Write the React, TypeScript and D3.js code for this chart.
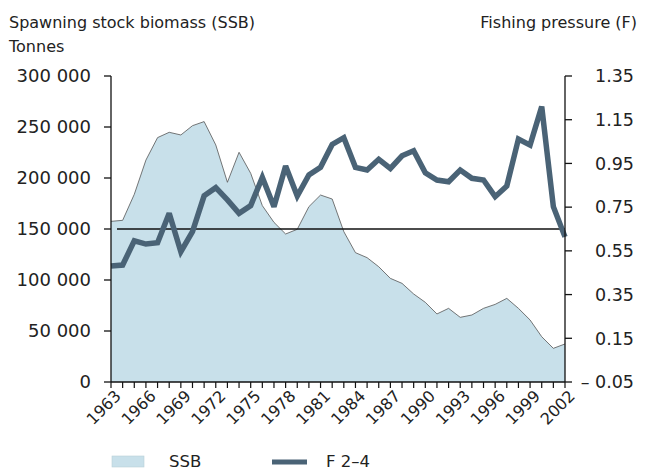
import React from 'react';
import * as d3 from 'd3';

const years = d3.range(1963, 2003);

// Spawning stock biomass, tonnes
const ssb = [
  157500, 158500, 184000, 217600, 239600, 244800, 242200, 251300, 255300, 232400,
  195800, 225200, 204600, 172900, 156500, 145100, 149700, 171900, 183300, 179400,
  147400, 126800, 121900, 113000, 101600, 96700, 86300, 78100, 66700, 72200,
  63400, 65700, 72200, 76100, 82000, 72200, 60800, 44400, 33000, 37300,
];

// Fishing pressure F 2-4
const f24 = [
  0.481, 0.485, 0.596, 0.581, 0.587, 0.722, 0.546, 0.638, 0.802, 0.839,
  0.783, 0.722, 0.757, 0.886, 0.752, 0.938, 0.801, 0.897, 0.932, 1.037,
  1.068, 0.932, 0.920, 0.969, 0.927, 0.985, 1.008, 0.907, 0.874, 0.866,
  0.920, 0.882, 0.874, 0.798, 0.847, 1.062, 1.034, 1.210, 0.752, 0.614,
];

const leftTicks = [0, 50000, 100000, 150000, 200000, 250000, 300000];
const rightTicks = [-0.05, 0.15, 0.35, 0.55, 0.75, 0.95, 1.15, 1.35];
const labelYears = years.filter((y) => (y - 1963) % 3 === 0);
const refLine = 150000;

const W = 648;
const H = 470;
const left = 111;
const right = 565;
const top = 76;
const bottom = 382;

const font = 'DejaVu Sans, Verdana, sans-serif';
const areaFill = '#c8e0ea';
const lineCol = '#4a6376';
const textCol = '#222';

export default function App() {
  const x = d3.scaleLinear().domain([1963, 2002]).range([left, right]);
  const yL = d3.scaleLinear().domain([0, 300000]).range([bottom, top]);
  const yR = d3.scaleLinear().domain([-0.05, 1.35]).range([bottom, top]);

  const area = d3.area<number>()
    .x((d, i) => x(years[i]))
    .y0(yL(0))
    .y1((d) => yL(d));
  const topEdge = d3.line<number>()
    .x((d, i) => x(years[i]))
    .y((d) => yL(d));
  const fLine = d3.line<number>()
    .x((d, i) => x(years[i]))
    .y((d) => yR(d));

  const fmt = (v: number) => d3.format(',')(v).replace(/,/g, ' ');

  return (
    <svg width={W} height={H} style={{ position: 'absolute', left: 0, top: 0, background: '#fff' }}>
      <g fontFamily={font} fill={textCol}>
        <text x={9} y={28} fontSize={16}>Spawning stock biomass (SSB)</text>
        <text x={9} y={52} fontSize={16}>Tonnes</text>
        <text x={637} y={28} fontSize={16} textAnchor="end">Fishing pressure (F)</text>
      </g>

      <path d={area(ssb) || ''} fill={areaFill} />
      <path d={topEdge(ssb) || ''} fill="none" stroke="#555" strokeWidth={0.8} />

      <line x1={x(1963) + 6} x2={right} y1={yL(refLine)} y2={yL(refLine)} stroke="#111" strokeWidth={1.3} />

      <path d={fLine(f24) || ''} fill="none" stroke={lineCol} strokeWidth={5.5} strokeLinejoin="miter" strokeMiterlimit={3} />

      {/* left axis */}
      <line x1={left} x2={left} y1={top} y2={bottom} stroke="#111" strokeWidth={1.3} />
      {leftTicks.map((t) => (
        <g key={t}>
          <line x1={left - 7} x2={left} y1={yL(t)} y2={yL(t)} stroke="#111" strokeWidth={1.3} />
          <text x={91} y={yL(t)} dy="0.36em" textAnchor="end" fontFamily={font} fontSize={18} fill={textCol}>
            {fmt(t)}
          </text>
        </g>
      ))}

      {/* right axis */}
      <line x1={right} x2={right} y1={top} y2={bottom} stroke="#111" strokeWidth={1.3} />
      {rightTicks.map((t) => (
        <g key={t}>
          <line x1={right} x2={right + 7} y1={yR(t)} y2={yR(t)} stroke="#111" strokeWidth={1.3} />
          <text x={634} y={yR(t)} dy="0.36em" textAnchor="end" fontFamily={font} fontSize={17.5} fill={textCol}>
            {t < 0 ? '– ' + Math.abs(t).toFixed(2) : t.toFixed(2)}
          </text>
        </g>
      ))}

      {/* x axis */}
      <line x1={left} x2={right} y1={bottom} y2={bottom} stroke="#111" strokeWidth={1.3} />
      {years.map((yr) => (
        <line key={yr} x1={x(yr)} x2={x(yr)} y1={bottom} y2={bottom + 6} stroke="#111" strokeWidth={1.2} />
      ))}
      {labelYears.map((yr) => (
        <text
          key={yr}
          transform={`translate(${x(yr) + 11},${bottom + 15}) rotate(-45)`}
          textAnchor="end"
          fontFamily={font}
          fontSize={16}
          fill={textCol}
        >
          {yr}
        </text>
      ))}

      {/* legend */}
      <rect x={112} y={456} width={32} height={11} fill={areaFill} stroke="#b8cfd8" strokeWidth={0.6} />
      <text x={169} y={467} fontFamily={font} fontSize={16.5} fill={textCol}>SSB</text>
      <line x1={272} x2={307} y1={462} y2={462} stroke={lineCol} strokeWidth={5} />
      <text x={326} y={467} fontFamily={font} fontSize={16.5} fill={textCol}>F 2–4</text>
    </svg>
  );
}
